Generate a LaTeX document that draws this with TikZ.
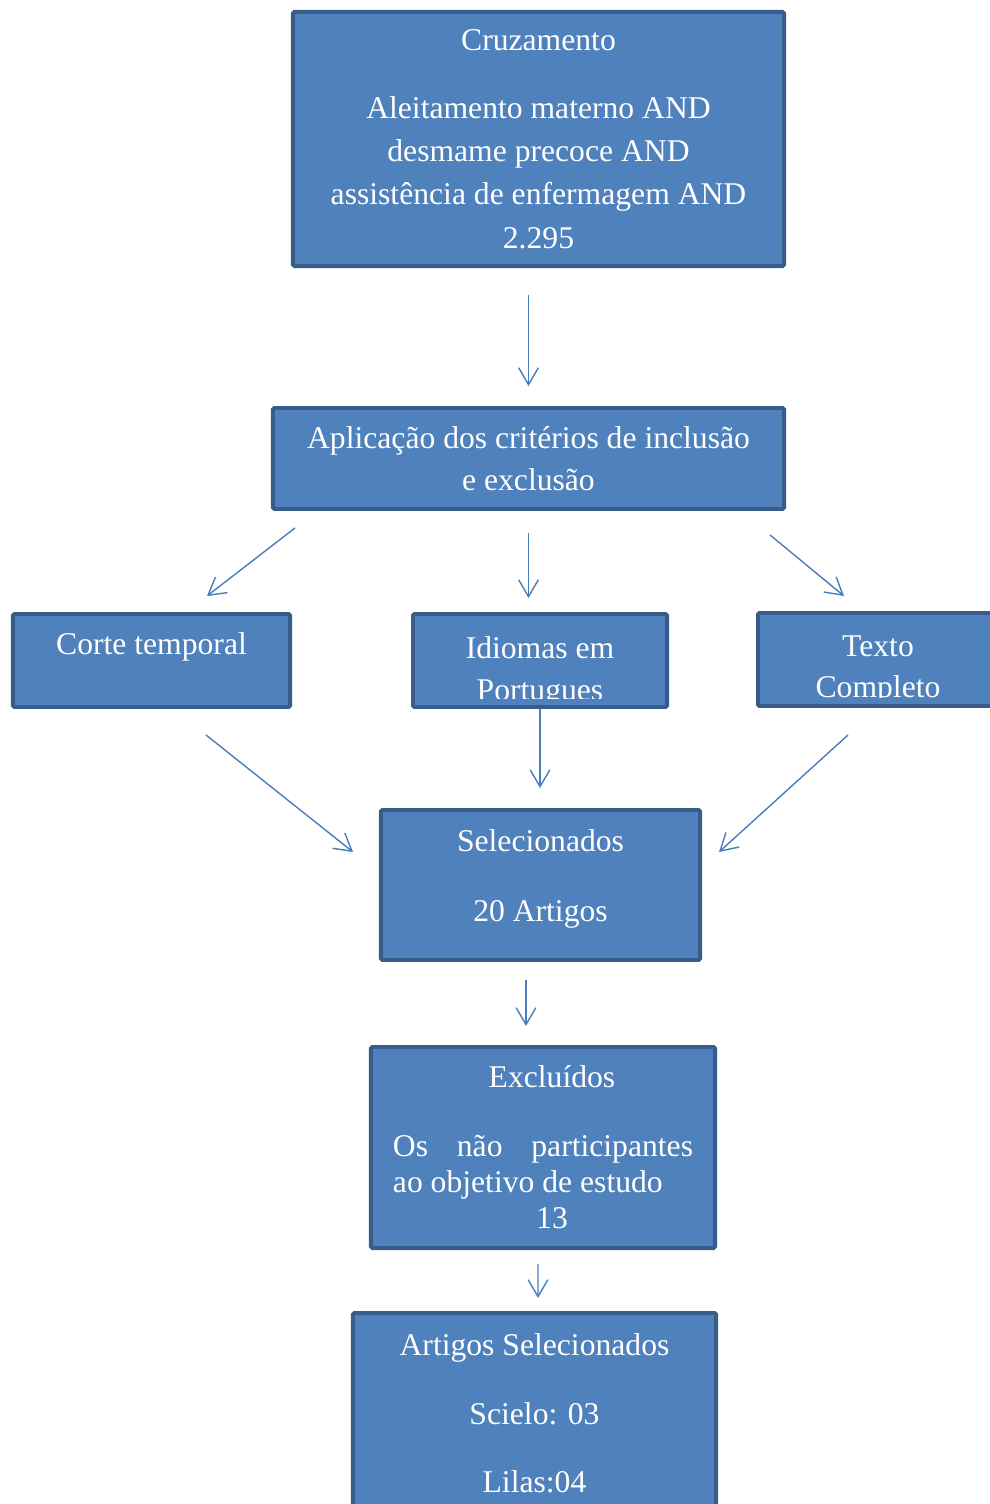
\documentclass[tikz,border=0pt]{standalone}
\usepackage{fontspec}
\setmainfont{Liberation Serif}
\usetikzlibrary{arrows.meta,calc}
\definecolor{boxfill}{HTML}{4F81BD}
\definecolor{boxline}{HTML}{385D8A}
\definecolor{arrowcol}{HTML}{4A7EBB}

\begin{document}
\begin{tikzpicture}[x=0.025cm, y=-0.025cm,
        box/.style={rectangle, draw=boxline, fill=boxfill, line width=2.8pt, rounded corners=1pt,
            text=white, align=center, inner sep=0pt, font=\fontsize{22.5}{29.8}\selectfont},
        txt/.style={text=white, align=center, inner sep=0pt, font=\fontsize{22.5}{29.8}\selectfont},
        arrow/.style={-{Straight Barb[length=12pt,width=14pt]}, draw=arrowcol, line width=1pt}
    ]
        \clip (0,0) rectangle (990,1504);

        % Cruzamento
        \node[box, minimum width=12.275cm, minimum height=6.35cm] (cruz) at (538.5,139)
            {Cruzamento\\[18.4pt]Aleitamento materno AND\\[1pt]desmame precoce AND\\[1pt]assistência de enfermagem AND\\[1pt]2.295};

        % Criterios
        \node[box, minimum width=12.775cm, minimum height=2.525cm] (aplic) at (528.5,458.5)
            {Aplicação dos critérios de inclusão\\e exclusão};

        % Filtros
        \node[box, minimum width=6.925cm, minimum height=2.325cm] (corte) at (151.5,660.5) {};
        \node[box, minimum width=6.35cm, minimum height=2.325cm] (idioma) at (540,660.5) {};
        \node[box, minimum width=6cm, minimum height=2.325cm] (texto) at (878,659.5) {};
        \node[txt] (cortetxt) at (151.5,647) {Corte temporal};
        \begin{scope}
            \clip (idioma.north west) rectangle ($(idioma.south east)+(0,-10)$);
            \node[txt] (idiomatxt) at (540,672) {Idiomas em\\Portugues};
        \end{scope}
        \begin{scope}
            \clip (texto.north west) rectangle ($(texto.south east)+(0,-10)$);
            \node[txt] (textotxt) at (878,670) {Texto\\Completo};
        \end{scope}

        % Selecionados
        \node[box, minimum width=7.975cm, minimum height=3.75cm] (selec) at (540.5,885) {};
        \node[txt] (selectxt) at (540.5,879) {Selecionados\\[19.9pt]20 Artigos};

        % Excluidos
        \node[box, align=left, minimum width=8.6cm, minimum height=5.025cm] (excl) at (543,1147.5)
            {\makebox[7.5cm][c]{\hspace{0.45cm}Excluídos}\\[19pt]
             \makebox[7.5cm][s]{Os\hfill não\hfill participantes}\\[-4pt]
             ao objetivo de estudo\\[-4pt]
             \makebox[7.5cm][c]{\hspace{0.45cm}13}};

        % Resultado
        \node[box, minimum width=9.075cm, minimum height=5.025cm] (artigos) at (534.5,1413.5)
            {Artigos Selecionados\\[19pt]Scielo: 03\\[19pt]Lilas:04};

        % Setas
        \draw[arrow, shorten <=0.675cm, shorten >=0.5cm] (aplic.north |- cruz.south) -- (aplic.north);
        \draw[arrow] ($(aplic.south west)+(24,17)$) -- ($(corte.north)+(55.5,-16)$);
        \draw[arrow, shorten <=0.55cm, shorten >=0.35cm] (aplic.south) -- (aplic.south |- idioma.north);
        \draw[arrow] ($(aplic.south east)+(-16,24)$) -- ($(texto.north west)+(88,-15)$);
        \draw[arrow, shorten >=0.5cm] (idioma.south) -- (idioma.south |- selec.north);
        \draw[arrow] ($(corte.south)+(54.5,26)$) -- ($(selec.west)+(-26,-33)$);
        \draw[arrow] ($(texto.south)+(-30,27)$) -- ($(selec.east)+(17,-33)$);
        \draw[arrow] ($(selec.south)+(-14.5,18)$) -- ($(excl.north)+(-17,-19)$);
        \draw[arrow] ($(excl.south)+(-5,14)$) -- ($(artigos.north)+(3.5,-13)$);
    \end{tikzpicture}
\end{document}
